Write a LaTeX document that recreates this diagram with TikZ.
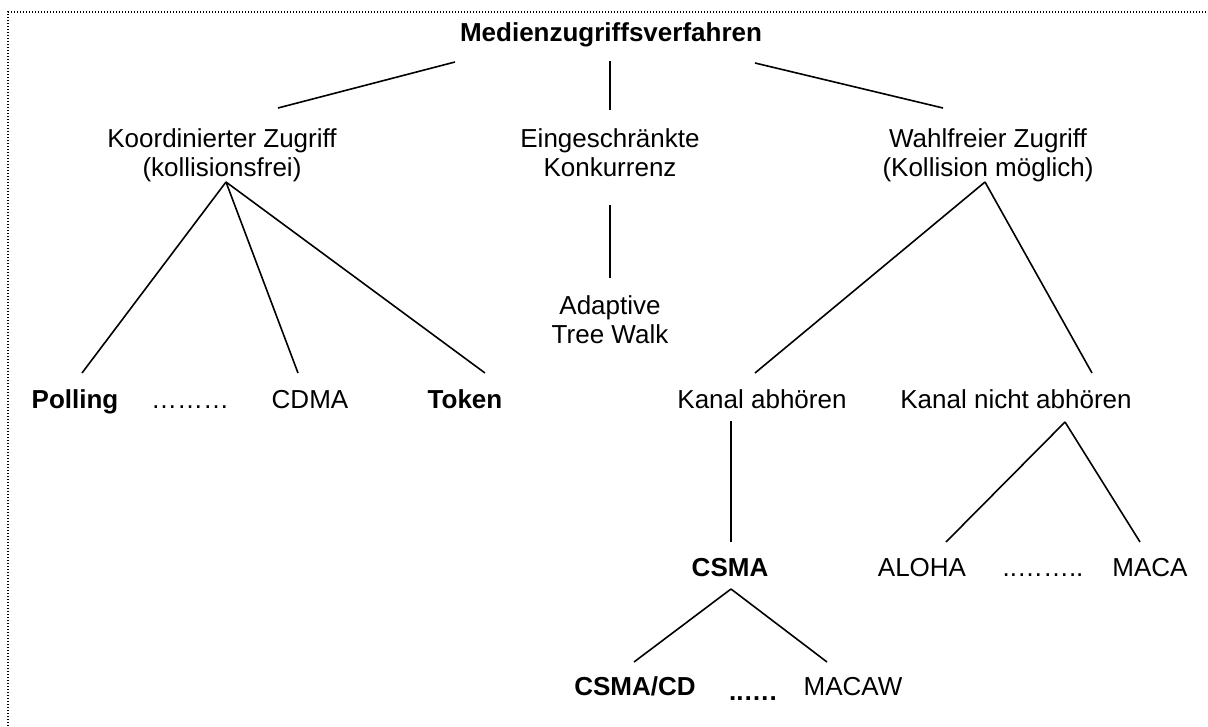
\documentclass[tikz,border=0pt]{standalone}
\usepackage{fontspec}
\setmainfont{Liberation Sans}
\newcommand{\twolines}[2]{\begin{tabular}[b]{@{}c@{}}#1\\#2\end{tabular}}
\begin{document}
\begin{tikzpicture}[x=1pt,y=-1pt,
  lbl/.style={inner sep=0pt, anchor=base, font=\fontsize{26}{29}\selectfont},
  boldlbl/.style={lbl, font=\fontsize{26}{29}\selectfont\bfseries},
  edge/.style={line width=1.6pt},
  frame/.style={line width=1.2pt, dash pattern=on 1.2pt off 1.8pt}]
\useasboundingbox (0,0) rectangle (1208,726);
% dotted frame along the top and left edges
\draw[frame] (8,726) -- (8,12) -- (1208,12);

% labels
\node[boldlbl] (root) at (611,41) {Medienzugriffsverfahren};
\node[lbl] (kz) at (222,176) {\twolines{Koordinierter Zugriff}{(kollisionsfrei)}};
\node[lbl] (ek) at (610,176) {\twolines{Eingeschränkte}{Konkurrenz}};
\node[lbl] (wz) at (988,176) {\twolines{Wahlfreier Zugriff}{(Kollision möglich)}};
\node[lbl] (atw) at (610,343) {\twolines{Adaptive}{Tree Walk}};
\node[boldlbl] (poll) at (75,408) {Polling};
\node[lbl] (dotsA) at (190,408) {………};
\node[lbl] (cdma) at (310,408) {CDMA};
\node[boldlbl] (token) at (465,408) {Token};
\node[lbl] (ka) at (762,408) {Kanal abhören};
\node[lbl] (kna) at (1016,408) {Kanal nicht abhören};
\node[boldlbl] (csma) at (730,576) {CSMA};
\node[lbl] (aloha) at (922,576) {ALOHA};
\node[lbl] (dotsB) at (1043,576) {..……..};
\node[lbl] (maca) at (1150,576) {MACA};
\node[boldlbl] (csmacd) at (635,695) {CSMA/CD};
\node[boldlbl] (dotsC) at (753,700) {..….};
\node[lbl] (macaw) at (853,695) {MACAW};

% connector end points
\coordinate (root-l) at (455,62);
\coordinate (root-m) at (610,61);
\coordinate (root-r) at (755,63);
\coordinate (kz-top) at (278,108);
\coordinate (ek-top) at (610,110);
\coordinate (wz-top) at (943,108);
\coordinate (kz-bot) at (226,182);
\coordinate (poll-top) at (82,373);
\coordinate (cdma-top) at (298,373);
\coordinate (token-top) at (485,373);
\coordinate (ek-bot) at (610,205);
\coordinate (atw-top) at (610,278);
\coordinate (wz-bot) at (985,182);
\coordinate (ka-top) at (755,373);
\coordinate (kna-top) at (1092,373);
\coordinate (ka-bot) at (731,421);
\coordinate (csma-top) at (731,542);
\coordinate (kna-bot) at (1065,422);
\coordinate (aloha-top) at (946,542);
\coordinate (maca-top) at (1140,542);
\coordinate (csma-bot) at (731,589);
\coordinate (csmacd-top) at (634,662);
\coordinate (macaw-top) at (827,662);

% tree connectors
\draw[edge] (root-l) -- (kz-top);
\draw[edge] (root-m) -- (ek-top);
\draw[edge] (root-r) -- (wz-top);
\draw[edge] (kz-bot) -- (poll-top);
\draw[edge] (kz-bot) -- (cdma-top);
\draw[edge] (kz-bot) -- (token-top);
\draw[edge] (ek-bot) -- (atw-top);
\draw[edge] (wz-bot) -- (ka-top);
\draw[edge] (wz-bot) -- (kna-top);
\draw[edge] (ka-bot) -- (csma-top);
\draw[edge] (kna-bot) -- (aloha-top);
\draw[edge] (kna-bot) -- (maca-top);
\draw[edge] (csma-bot) -- (csmacd-top);
\draw[edge] (csma-bot) -- (macaw-top);
\end{tikzpicture}
\end{document}
